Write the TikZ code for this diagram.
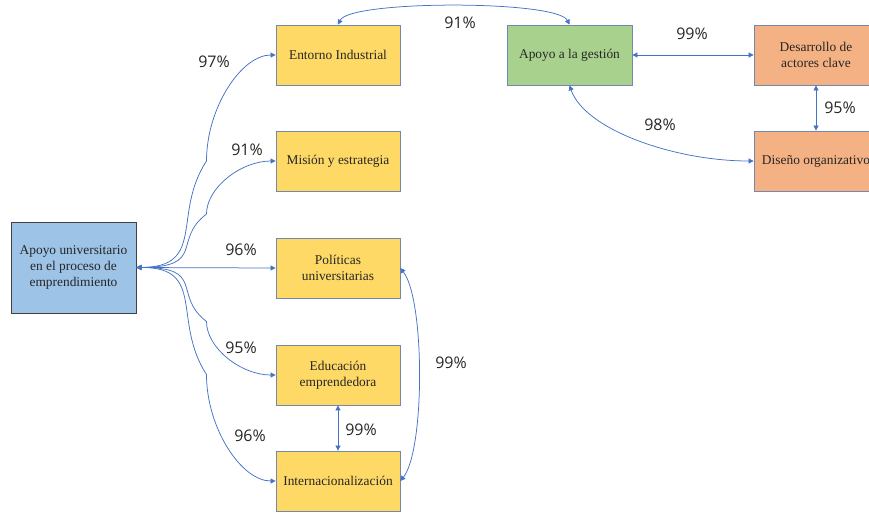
\documentclass[tikz,border=0pt]{standalone}
\usepackage{fontspec}
\setmainfont{Liberation Serif}
\newfontfamily\labelfont{Open Sans}
\usetikzlibrary{arrows.meta}
\definecolor{linkblue}{HTML}{4472C4}
\definecolor{boxedge}{HTML}{7288B0}
\definecolor{unifill}{HTML}{9DC3E6}
\definecolor{yelfill}{HTML}{FFD966}
\definecolor{grnfill}{HTML}{A9D18E}
\definecolor{orgfill}{HTML}{F4B183}
\tikzset{
  box/.style={draw=boxedge, line width=0.8pt, minimum width=124pt, minimum height=60pt,
    inner sep=2pt, align=center, font=\fontsize{13.4}{16}\selectfont, text=black!85},
  link/.style={draw=linkblue, line width=0.75pt, {Triangle[length=5pt,width=5pt]}-{Triangle[length=5pt,width=5pt]}},
  pct/.style={font=\labelfont\fontsize{16}{18}\selectfont, text=black!85, inner sep=0pt}
}
\begin{document}
\begin{tikzpicture}[x=1pt,y=-1pt]
\useasboundingbox (0,0) rectangle (869,512);
\begin{scope}
\clip (0,0) rectangle (869,512);
% main construct
\node[box, draw=black!75, fill=unifill, minimum width=125pt, minimum height=91pt] (U) at (73.5,267.5)
  {Apoyo universitario\\en el proceso de\\emprendimiento};
% dimensions
\node[box, fill=yelfill] (E) at (338,55) {Entorno Industrial};
\node[box, fill=yelfill] (M) at (338,161) {Misión y estrategia};
\node[box, fill=yelfill] (P) at (338,268) {Políticas\\universitarias};
\node[box, fill=yelfill] (Ed) at (338,375) {Educación\\emprendedora};
\node[box, fill=yelfill] (I) at (338,481) {Internacionalización};
\node[box, fill=grnfill, minimum width=125pt] (G) at (569.5,55) {Apoyo a la gestión};
\node[box, fill=orgfill] (D) at (816,55) {Desarrollo de\\actores clave};
\node[box, fill=orgfill] (O) at (816,161) {Diseño organizativo};

% links from the main construct
\draw[link] (U.east) .. controls (206.5,267) and (171.75,214) .. (206.5,161)
  .. controls (206.5,108) and (241.25,55) .. (E.west);
\draw[link] (U.east) .. controls (206.5,267) and (171.75,240.5) .. (206.5,214)
  .. controls (206.5,187.5) and (241.25,161) .. (M.west);
\draw[link] (U.east) -- (P.west);
\draw[link] (U.east) .. controls (206.5,267) and (171.75,294.75) .. (206.5,321.5)
  .. controls (206.5,348.25) and (241.25,375) .. (Ed.west);
\draw[link] (U.east) .. controls (206.5,267) and (171.75,321) .. (206.5,374.5)
  .. controls (206.5,428) and (241.25,481) .. (I.west);

% links between dimensions
\draw[link] (Ed.south) -- (I.north);
\draw[link] (P.east) .. controls (425,300) and (425,450) .. (I.east);
\draw[link] (E.north) .. controls (350,0) and (557,0) .. (G.north);
\draw[link] (G.east) -- (D.west);
\draw[link] (D.south) -- (O.north);
\draw[link] (G.south) .. controls (585,130) and (675,161) .. (O.west);
\end{scope}

% percentages
\node[pct] (l1) at (214,62) {97\%};
\node[pct] (l2) at (247,150) {91\%};
\node[pct] (l3) at (241,250) {96\%};
\node[pct] (l4) at (241,348) {95\%};
\node[pct] (l5) at (250,436) {96\%};
\node[pct] (l6) at (361,430) {99\%};
\node[pct] (l7) at (451,363) {99\%};
\node[pct] (l8) at (460,23) {91\%};
\node[pct] (l9) at (692,34) {99\%};
\node[pct] (l10) at (660,125) {98\%};
\node[pct] (l11) at (840,108) {95\%};
\end{tikzpicture}
\end{document}
